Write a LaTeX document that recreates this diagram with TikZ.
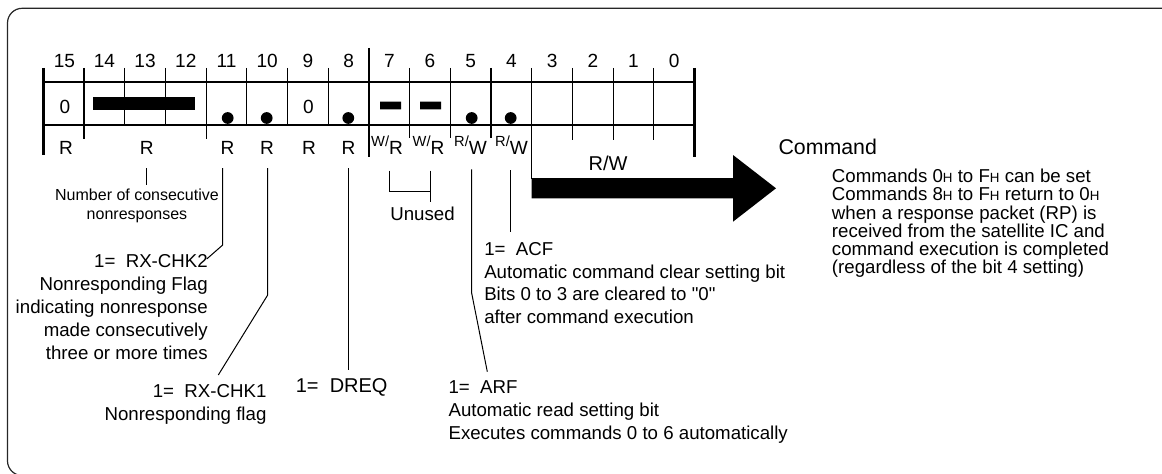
\documentclass[tikz,border=0pt]{standalone}
\usepackage{fontspec}
\setmainfont{Liberation Sans}
\newfontfamily\rawsans{Liberation Sans}
\usepackage{tikz}
\usetikzlibrary{positioning}
\newcommand{\Hs}{{\fontsize{10}{10}\selectfont H}}
\newcommand{\Acc}[2]{\raisebox{6pt}{\fontsize{11}{11}\selectfont #1/}#2}
\newcommand{\dq}{{\rawsans\char34\relax}}

\begin{document}
\begin{tikzpicture}[
  x=0.75pt, y=-0.75pt,
  frameline/.style={draw=black!85, line width=0.9pt, rounded corners=11pt},
  regline/.style={line width=1.3pt},
  cellline/.style={line width=0.9pt},
  heavyline/.style={line width=2pt},
  leader/.style={line width=0.75pt},
  bitnum/.style={anchor=base, inner sep=0pt, font=\fontsize{14.3}{14.3}\selectfont},
  acc/.style={bitnum},
  note/.style={inner sep=0pt, font=\fontsize{14}{17}\selectfont}
]
\useasboundingbox (0,0) rectangle (1162,474);
\clip (0,0) rectangle (1162,474);

% Frame
\draw[frameline] (1180,8.3) -- (7.5,8.3) -- (7.5,475.5) -- (1180,475.5);

% Bit numbers
\node[bitnum] (n15) at (64.5,68) {15};
\node[bitnum] (n14) at (104.4,68) {14};
\node[bitnum] (n13) at (145.1,68) {13};
\node[bitnum] (n12) at (185.8,68) {12};
\node[bitnum] (n11) at (226.5,68) {11};
\node[bitnum] (n10) at (267.2,68) {10};
\node[bitnum] (n9) at (307.9,68) {9};
\node[bitnum] (n8) at (348.6,68) {8};
\node[bitnum] (n7) at (389.3,68) {7};
\node[bitnum] (n6) at (430,68) {6};
\node[bitnum] (n5) at (470.7,68) {5};
\node[bitnum] (n4) at (511.4,68) {4};
\node[bitnum] (n3) at (552.1,68) {3};
\node[bitnum] (n2) at (592.8,68) {2};
\node[bitnum] (n1) at (633.5,68) {1};
\node[bitnum] (n0) at (674.2,68) {0};

% Register cells
\draw[regline] (43.3,81.7) -- (694.5,81.7) (43.3,125) -- (694.5,125);
\draw[cellline] (84,68) -- (84,139) (124.7,68) -- (124.7,125) (165.4,68) -- (165.4,125)
  (206.1,68) -- (206.1,139) (246.8,68) -- (246.8,125) (287.5,68) -- (287.5,125)
  (328.2,68) -- (328.2,125) (409.6,68) -- (409.6,138) (450.3,68) -- (450.3,138)
  (491,68) -- (491,138) (531.7,68) -- (531.7,179) (572.4,68) -- (572.4,140)
  (613.1,68) -- (613.1,140) (653.8,68) -- (653.8,140);
\draw[heavyline] (43.3,68) -- (43.3,155) (368.9,48) -- (368.9,157) (694.5,68) -- (694.5,157);

% Cell contents
\node[bitnum] (v15) at (65,113.3) {0};
\node[bitnum] (v9) at (308.5,113.3) {0};
\fill (92.7,96.7) rectangle (195,110);
\fill (380,101.7) rectangle (401,109.3) (420,101.7) rectangle (441,109.3);
\fill (227.7,118) circle (4.4pt) (266.7,118) circle (4.4pt) (348.3,118) circle (4.4pt)
  (471.7,118) circle (4.4pt) (510.7,118) circle (4.4pt);

% Access labels
\node[acc] (r15) at (66,154) {R};
\node[acc] (r14) at (146.7,154) {R};
\node[acc] (r11) at (227.5,154) {R};
\node[acc] (r10) at (267,154) {R};
\node[acc] (r9) at (309,154) {R};
\node[acc] (r8) at (348.6,154) {R};
\node[acc] (w7) at (387,155) {\Acc{W}{R}};
\node[acc] (w6) at (428.5,155) {\Acc{W}{R}};
\node[acc] (w5) at (470.5,155) {\Acc{R}{W}};
\node[acc] (w4) at (511.5,155) {\Acc{R}{W}};
\node[inner sep=0pt, font=\fontsize{15}{15}\selectfont] (rw) at (608,163) {R/W};

% Command arrow
\fill (531.7,178) -- (733,178) -- (733,155) -- (776,188.3) -- (733,221.7) -- (733,198.3)
  -- (531.7,198.3) -- cycle;
\node[anchor=west, inner sep=0pt, font=\fontsize{16}{16}\selectfont] (cmd) at (778.3,146.7) {Command};
\node[note, anchor=west, align=left, font=\fontsize{14}{13.7}\selectfont] (cmdtxt) at (831.7,223.5)
  {Commands 0\Hs{} to F\Hs{} can be set\\Commands 8\Hs{} to F\Hs{} return to 0\Hs\\
   when a response packet (RP) is\\received from the satellite IC and\\
   command execution is completed\\(regardless of the bit 4 setting)};

% Annotations
\node[note, align=center, font=\fontsize{12}{14.5}\selectfont] (nonresp) at (137,206)
  {Number of consecutive\\nonresponses};
\node[note, anchor=east, align=right, font=\fontsize{14}{17.2}\selectfont] (chk2) at (208,307)
  {1=\ \ RX-CHK2\\Nonresponding Flag\\indicating nonresponse\\made consecutively\\three or more times};
\node[note, anchor=east, align=right, font=\fontsize{14}{17.5}\selectfont] (chk1) at (266.7,404.5)
  {1=\ \ RX-CHK1\\Nonresponding flag};
\node[inner sep=0pt, font=\fontsize{15}{15}\selectfont] (dreq) at (341.7,387) {1=\ \ DREQ};
\node[inner sep=0pt, font=\fontsize{14}{14}\selectfont] (unused) at (422.5,214.3) {Unused};
\node[note, anchor=west, align=left, font=\fontsize{14}{16.9}\selectfont] (acf) at (484,283)
  {1=\ \ ACF\\Automatic command clear setting bit\\Bits 0 to 3 are cleared to \dq0\dq\\after command execution};
\node[note, anchor=west, align=left, font=\fontsize{14}{17.1}\selectfont] (arf) at (448.3,412.3)
  {1=\ \ ARF\\Automatic read setting bit\\Executes commands 0 to 6 automatically};

% Leader lines
\coordinate (t14) at (146.7,168);
\coordinate (t11) at (222.7,168);
\coordinate (k11) at (222.7,245);
\coordinate (e11) at (206.7,259);
\coordinate (t10) at (267.7,168);
\coordinate (k10) at (267.7,295);
\coordinate (e10) at (218.3,375);
\coordinate (t8) at (348.3,168);
\coordinate (t7) at (389.3,170.7);
\coordinate (k7) at (389.3,191.7);
\coordinate (t6) at (430,170.7);
\coordinate (e6) at (430,201.7);
\coordinate (t5) at (471.7,169.3);
\coordinate (k5) at (471.7,293.3);
\coordinate (e5) at (487.3,371.7);
\coordinate (t4) at (510.7,170);
\coordinate (e4) at (510.7,231.7);

\draw[leader] (t14) -- ++(0,17);
\draw[leader] (t11) -- (k11) -- (e11);
\draw[leader] (t10) -- (k10) -- (e10);
\draw[leader] (t8) -- ++(0,202);
\draw[leader] (t7) -- (k7) -| (e6);
\draw[leader] (t6) -- (e6);
\draw[leader] (t5) -- (k5) -- (e5);
\draw[leader] (t4) -- (e4);
\end{tikzpicture}
\end{document}
